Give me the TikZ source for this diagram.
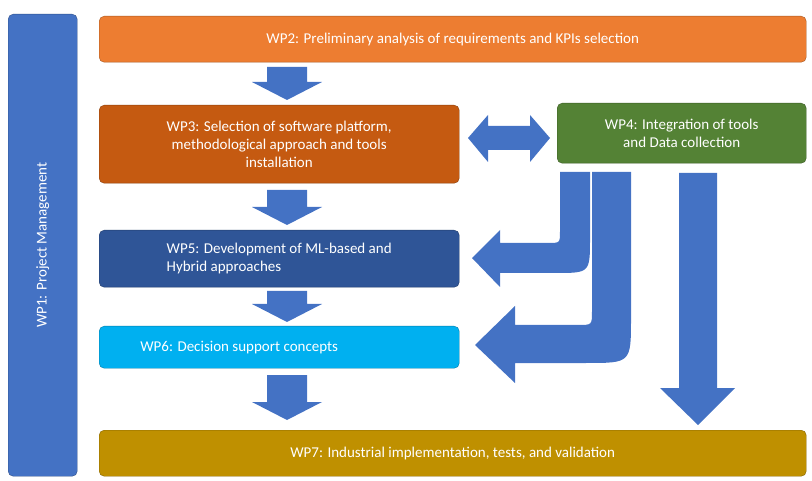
\documentclass[tikz,border=0pt]{standalone}
\usepackage{fontspec}
\setmainfont{Carlito}
\definecolor{arrowblue}{HTML}{4472C4}
\definecolor{wpone}{HTML}{4472C4}
\definecolor{wptwo}{HTML}{ED7D31}
\definecolor{wpthree}{HTML}{C55A11}
\definecolor{wpfour}{HTML}{548235}
\definecolor{wpfive}{HTML}{2F5597}
\definecolor{wpsix}{HTML}{00B0F0}
\definecolor{wpseven}{HTML}{BF9000}
\newcommand{\downblock}[3]{% x, top y, bottom y
  \fill[arrowblue] (#1-20,#2) -- (#1+20,#2) -- (#1+20,#3-18) -- (#1+35,#3-18)
    -- (#1,#3) -- (#1-35,#3-18) -- (#1-20,#3-18) -- cycle;}
\begin{document}
\begin{tikzpicture}[x=1pt,y=-1pt,
  wp/.style = {draw=#1!70!black, fill=#1, rounded corners=5pt, text=white,
               font=\fontsize{15}{18}\selectfont, inner sep=0pt, anchor=north west}]
  \useasboundingbox (0,0) rectangle (812,481);

  \node[wp=wpone, minimum width=69, minimum height=462] (wp1) at (8,14) {};
  \node[rotate=90, text=white, font=\fontsize{15}{18}\selectfont] at (wp1.center) {WP1: Project Management};

  \node[wp=wptwo, minimum width=707, minimum height=46] (wp2) at (99,16) {WP2: Preliminary analysis of requirements and KPIs selection};
  \node[wp=wpthree, minimum width=360, minimum height=78, align=center] (wp3) at (99,105) {WP3: Selection of software platform,\\methodological approach and tools\\installation};
  \node[wp=wpfour, minimum width=249, minimum height=60, align=center] (wp4) at (557,103) {WP4: Integration of tools\\and Data collection};
  \node[wp=wpfive, minimum width=360, minimum height=57, align=left] (wp5) at (99,230) {WP5: Development of ML-based and\\Hybrid approaches\hspace*{95pt}};
  \node[wp=wpsix, minimum width=360, minimum height=42] (wp6) at (99,326) {WP6: Decision support concepts\hspace*{80pt}};
  \node[wp=wpseven, minimum width=707, minimum height=46] (wp7) at (99,430) {WP7: Industrial implementation, tests, and validation};

  % straight block arrows
  \downblock{287}{67}{100}
  \downblock{287}{190}{225}
  \downblock{287}{291}{322}
  \downblock{287}{375}{420}

  % double arrow between WP3 and WP4
  \fill[arrowblue] (468,138) -- (488,115) -- (488,126) -- (530,126) -- (530,115)
    -- (550,138) -- (530,162) -- (530,150) -- (488,150) -- (488,162) -- cycle;

  % bent arrows from WP4
  \fill[arrowblue] (560,172) -- (590,172) -- (590,238) .. controls (590,273) .. (555,273)
    -- (500,273) -- (500,287) -- (472,258) -- (500,230) -- (500,243) -- (548,243)
    .. controls (560,243) .. (560,231) -- cycle;
  \fill[arrowblue] (592,172) -- (631,172) -- (631,318) .. controls (631,363) .. (586,363)
    -- (515,363) -- (515,383) -- (475,345) -- (515,306) -- (515,325) -- (578,325)
    .. controls (592,325) .. (592,311) -- cycle;
  \fill[arrowblue] (679,173) -- (717,173) -- (717,388) -- (735,388) -- (698,425)
    -- (660,388) -- (679,388) -- cycle;
\end{tikzpicture}
\end{document}
